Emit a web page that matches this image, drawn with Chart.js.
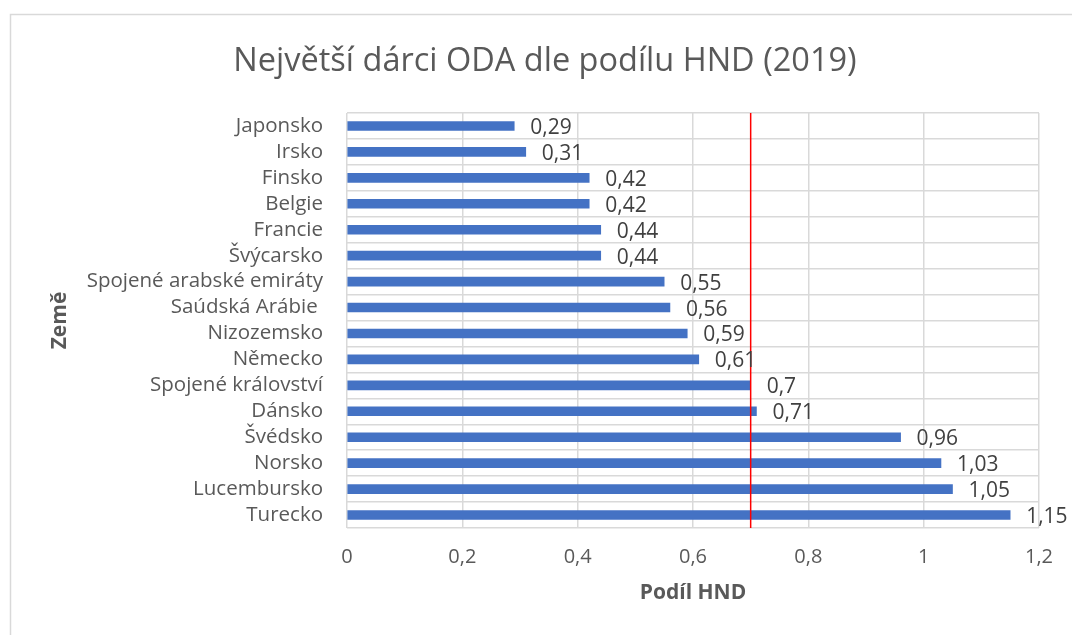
<!DOCTYPE html>
<html>
<head>
<meta charset="utf-8">
<script src="https://cdn.jsdelivr.net/npm/chart.js@4"></script>
<style>
    html, body { margin: 0; padding: 0; background: #fff; }
    #wrap { width: 1072px; height: 635px; position: relative; }
</style>
</head>
<body>
<div id="wrap"><canvas id="oda-chart"></canvas></div>
<script>
//? Data
const countries = ['Japonsko', 'Irsko', 'Finsko', 'Belgie', 'Francie', 'Švýcarsko', 'Spojené arabské emiráty', 'Saúdská Arábie ', 'Nizozemsko', 'Německo', 'Spojené království', 'Dánsko', 'Švédsko', 'Norsko', 'Lucembursko', 'Turecko']
const gniShare = [0.29, 0.31, 0.42, 0.42, 0.44, 0.44, 0.55, 0.56, 0.59, 0.61, 0.7, 0.71, 0.96, 1.03, 1.05, 1.15]
const targetShare = 0.7
const xTicks = [0, 0.2, 0.4, 0.6, 0.8, 1, 1.2]

const fontFamily = "'Open Sans', sans-serif"
const textGrey = '#595959'
const gridGrey = '#d9d9d9'

const czNum = v => String(v).replace('.', ',')

//? Plugins
const frame = {
    id: 'frame',
    beforeDraw(chart) {
        const ctx = chart.ctx
        ctx.save()
        ctx.strokeStyle = gridGrey
        ctx.lineWidth = 1.5
        ctx.strokeRect(10.5, 14.5, chart.width + 20, chart.height + 20)
        ctx.restore()
    }
}

const targetLine = {
    id: 'targetLine',
    afterDatasetsDraw(chart) {
        const {ctx, chartArea, scales} = chart
        const x = scales.x.getPixelForValue(targetShare)
        ctx.save()
        ctx.strokeStyle = '#ff0000'
        ctx.lineWidth = 1.5
        ctx.beginPath()
        ctx.moveTo(x, chartArea.top)
        ctx.lineTo(x, chartArea.bottom)
        ctx.stroke()
        ctx.restore()
    }
}

const valueLabels = {
    id: 'valueLabels',
    afterDraw(chart) {
        const ctx = chart.ctx
        const meta = chart.getDatasetMeta(0)
        ctx.save()
        ctx.font = '21px ' + fontFamily
        ctx.fillStyle = '#404040'
        ctx.textAlign = 'left'
        ctx.textBaseline = 'middle'
        meta.data.forEach((bar, i) => {
            ctx.fillText(czNum(gniShare[i]), bar.x + 16, bar.y + 2)
        })
        ctx.restore()
    }
}

//? Chart
const dataOda = {
    labels: countries,
    datasets: [
        {
            label: 'Podíl HND',
            data: gniShare,
            backgroundColor: '#4472C4',
            barThickness: 9
        }
    ]
}

const configOda = {
    type: 'bar',
    data: dataOda,
    options: {
        indexAxis: 'y',
        responsive: true,
        maintainAspectRatio: false,
        animation: false,
        layout: { padding: { left: 51, top: 14, right: 33, bottom: 0 } },
        plugins: {
            legend: { display: false },
            tooltip: { enabled: false },
            title: {
                display: true,
                text: 'Největší dárci ODA dle podílu HND (2019)',
                color: textGrey,
                font: { family: fontFamily, size: 32.5, weight: 'normal' },
                padding: { top: 28, bottom: 32 }
            }
        },
        scales: {
            x: {
                min: 0,
                max: 1.2,
                afterBuildTicks: scale => { scale.ticks = xTicks.map(v => ({ value: v })) },
                afterFit: scale => { scale.height = 107 },
                grid: { color: gridGrey, lineWidth: 1.5, drawTicks: false },
                border: { display: false },
                ticks: {
                    color: textGrey,
                    padding: 17,
                    font: { family: fontFamily, size: 20 },
                    callback: v => czNum(v)
                },
                title: {
                    display: true,
                    text: 'Podíl HND',
                    color: textGrey,
                    font: { family: fontFamily, size: 21, weight: 'bold' },
                    padding: { top: 0, bottom: 29 }
                }
            },
            y: {
                afterFit: scale => { scale.width = 296 },
                grid: { color: gridGrey, lineWidth: 1.5, drawTicks: false, offset: true },
                border: { display: false },
                ticks: {
                    color: textGrey,
                    padding: 24,
                    autoSkip: false,
                    font: { family: fontFamily, size: 20.5 }
                },
                title: {
                    display: true,
                    text: 'Země',
                    color: textGrey,
                    font: { family: fontFamily, size: 21, weight: 'bold' },
                    padding: { top: -4, bottom: 0 }
                }
            }
        }
    },
    plugins: [frame, targetLine, valueLabels]
}

const odaCanvas = document.getElementById('oda-chart')
const odaChart = new Chart(odaCanvas, configOda)
</script>
</body>
</html>
